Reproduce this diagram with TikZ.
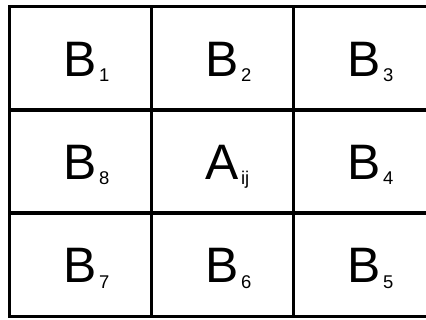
\documentclass[tikz,border=0pt]{standalone}
\usepackage{fontspec}
\setmainfont{Liberation Sans}
\usetikzlibrary{positioning}

% letter with a small index hanging at its lower right
\newcommand{\cellname}[2]{\fontsize{50}{50}\selectfont #1\rlap{\kern2pt\raisebox{-5.5bp}{\fontsize{18.5}{19}\selectfont #2}}}

\tikzset{
    cell/.style={draw=black,line width=3.7bp,minimum width=142bp,minimum height=103.3bp,
        inner sep=0pt,outer sep=0pt,text height=36bp,text depth=0pt}
}

\begin{document}
\begin{tikzpicture}[x=1bp,y=1bp]
    \clip (0,0) rectangle (426,320);
    \fill[white] (0,0) rectangle (426,320);

    % top row
    \node[cell] (b1) at (80.5,261.85) {\cellname{B}{1}};
    \node[cell,right=0pt of b1] (b2) {\cellname{B}{2}};
    \node[cell,right=0pt of b2] (b3) {\cellname{B}{3}};

    % middle row
    \node[cell,below=0pt of b1] (b8) {\cellname{B}{8}};
    \node[cell,right=0pt of b8] (aij) {\cellname{A}{ij}};
    \node[cell,right=0pt of aij] (b4) {\cellname{B}{4}};

    % bottom row
    \node[cell,below=0pt of b8] (b7) {\cellname{B}{7}};
    \node[cell,right=0pt of b7] (b6) {\cellname{B}{6}};
    \node[cell,right=0pt of b6] (b5) {\cellname{B}{5}};
\end{tikzpicture}
\end{document}
